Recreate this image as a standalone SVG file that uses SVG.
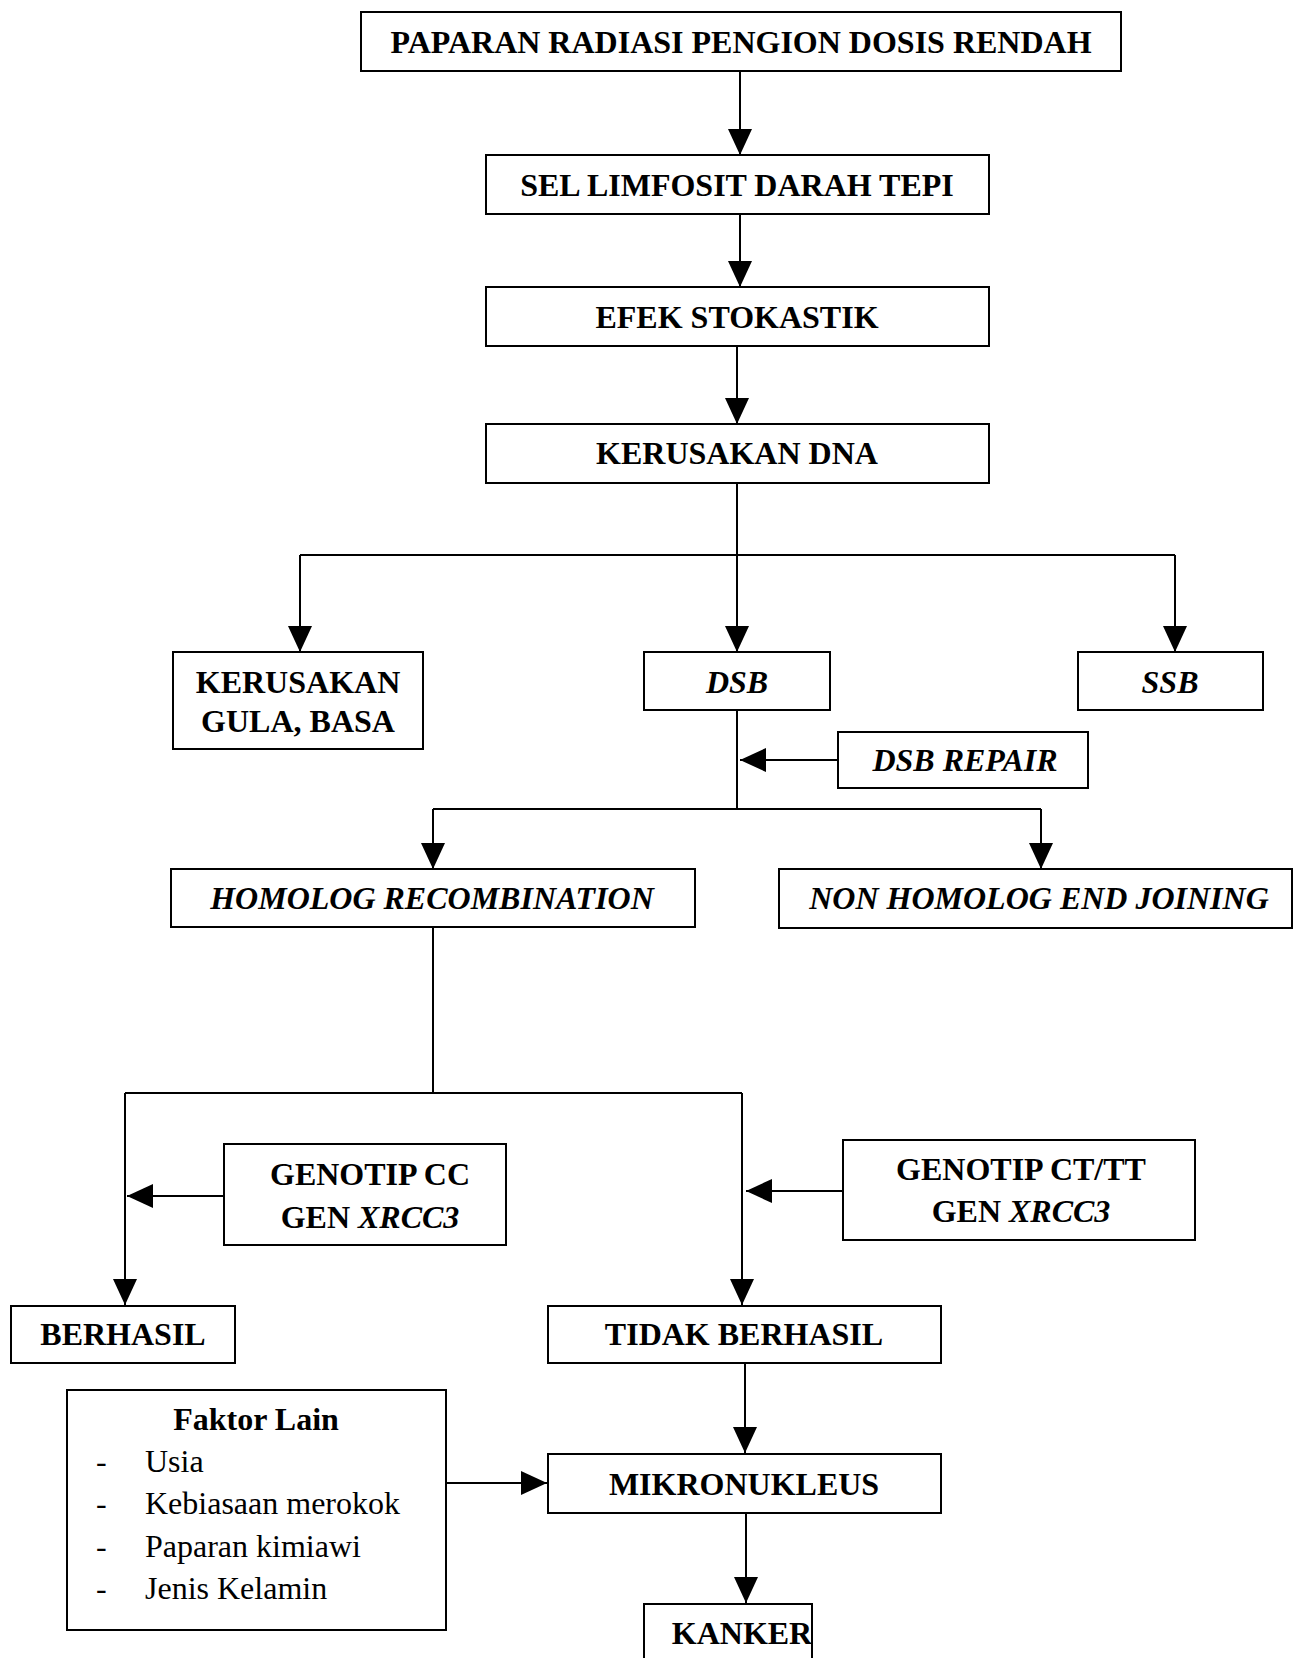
<svg xmlns="http://www.w3.org/2000/svg" width="1294" height="1658" viewBox="0 0 1294 1658">
<style>
.box{fill:#fff;stroke:#000;stroke-width:2}
.t{font-family:"Liberation Serif","Times New Roman",serif;font-size:32px;font-weight:bold;text-anchor:middle;fill:#000}
.i{font-style:italic}
.r{font-family:"Liberation Serif","Times New Roman",serif;font-size:32px;fill:#000}
.c{fill:none;stroke:#000;stroke-width:2}
</style>
<defs>
<marker id="ah" markerUnits="userSpaceOnUse" markerWidth="26" markerHeight="24" refX="26" refY="12" orient="auto">
<path d="M0,0 L26,12 L0,24 Z" fill="#000"/>
</marker>
</defs>
<rect width="1294" height="1658" fill="#fff"/>
<g id="connectors">
<path class="c" d="M740,72 V155" marker-end="url(#ah)"/>
<path class="c" d="M740,214 V287" marker-end="url(#ah)"/>
<path class="c" d="M737,346 V424" marker-end="url(#ah)"/>
<path class="c" d="M737,483 V555 M300,555 H1175"/>
<path class="c" d="M300,555 V652" marker-end="url(#ah)"/>
<path class="c" d="M737,555 V652" marker-end="url(#ah)"/>
<path class="c" d="M1175,555 V652" marker-end="url(#ah)"/>
<path class="c" d="M737,710 V809 M433,809 H1041"/>
<path class="c" d="M838,760 H740" marker-end="url(#ah)"/>
<path class="c" d="M433,809 V869" marker-end="url(#ah)"/>
<path class="c" d="M1041,809 V869" marker-end="url(#ah)"/>
<path class="c" d="M433,927 V1093 M125,1093 H742"/>
<path class="c" d="M125,1093 V1305" marker-end="url(#ah)"/>
<path class="c" d="M742,1093 V1305" marker-end="url(#ah)"/>
<path class="c" d="M224,1196 H127" marker-end="url(#ah)"/>
<path class="c" d="M843,1191 H746" marker-end="url(#ah)"/>
<path class="c" d="M745,1363 V1453" marker-end="url(#ah)"/>
<path class="c" d="M446,1483 H547" marker-end="url(#ah)"/>
<path class="c" d="M746,1513 V1603" marker-end="url(#ah)"/>
</g>
<g id="n_paparan"><rect class="box" x="361" y="12" width="760" height="59"/><text class="t" x="741" y="53">PAPARAN RADIASI PENGION DOSIS RENDAH</text></g>
<g id="n_sel"><rect class="box" x="486" y="155" width="503" height="59"/><text class="t" x="737" y="196">SEL LIMFOSIT DARAH TEPI</text></g>
<g id="n_efek"><rect class="box" x="486" y="287" width="503" height="59"/><text class="t" x="737" y="328">EFEK STOKASTIK</text></g>
<g id="n_dna"><rect class="box" x="486" y="424" width="503" height="59"/><text class="t" x="737" y="464">KERUSAKAN DNA</text></g>
<g id="n_gula"><rect class="box" x="173" y="652" width="250" height="97"/><text class="t" x="298" y="693">KERUSAKAN</text><text class="t" x="298" y="732">GULA, BASA</text></g>
<g id="n_dsb"><rect class="box" x="644" y="652" width="186" height="58"/><text class="t i" x="737" y="693">DSB</text></g>
<g id="n_ssb"><rect class="box" x="1078" y="652" width="185" height="58"/><text class="t i" x="1170" y="693">SSB</text></g>
<g id="n_repair"><rect class="box" x="838" y="732" width="250" height="56"/><text class="t i" x="965" y="771">DSB REPAIR</text></g>
<g id="n_hr"><rect class="box" x="171" y="869" width="524" height="58"/><text class="t i" x="432" y="909">HOMOLOG RECOMBINATION</text></g>
<g id="n_nhej"><rect class="box" x="779" y="869" width="513" height="59"/><text class="t i" x="1039" y="909">NON HOMOLOG END JOINING</text></g>
<g id="n_gcc"><rect class="box" x="224" y="1144" width="282" height="101"/><text class="t" x="370" y="1185">GENOTIP CC</text><text class="t" x="370" y="1228">GEN <tspan class="i">XRCC3</tspan></text></g>
<g id="n_gct"><rect class="box" x="843" y="1140" width="352" height="100"/><text class="t" x="1021" y="1180">GENOTIP CT/TT</text><text class="t" x="1021" y="1222">GEN <tspan class="i">XRCC3</tspan></text></g>
<g id="n_berhasil"><rect class="box" x="11" y="1306" width="224" height="57"/><text class="t" x="123" y="1345">BERHASIL</text></g>
<g id="n_tidak"><rect class="box" x="548" y="1306" width="393" height="57"/><text class="t" x="744" y="1345">TIDAK BERHASIL</text></g>
<g id="n_faktor"><rect class="box" x="67" y="1390" width="379" height="240"/>
<text class="t" x="256" y="1430">Faktor Lain</text>
<text class="r" x="96" y="1472">-</text><text class="r" x="145" y="1472">Usia</text>
<text class="r" x="96" y="1514">-</text><text class="r" x="145" y="1514">Kebiasaan merokok</text>
<text class="r" x="96" y="1557">-</text><text class="r" x="145" y="1557">Paparan kimiawi</text>
<text class="r" x="96" y="1599">-</text><text class="r" x="145" y="1599">Jenis Kelamin</text>
</g>
<g id="n_mikro"><rect class="box" x="548" y="1454" width="393" height="59"/><text class="t" x="744" y="1495">MIKRONUKLEUS</text></g>
<g id="n_kanker"><rect class="box" x="644" y="1604" width="168" height="60"/><text class="t" x="742" y="1644">KANKER</text></g>
</svg>
